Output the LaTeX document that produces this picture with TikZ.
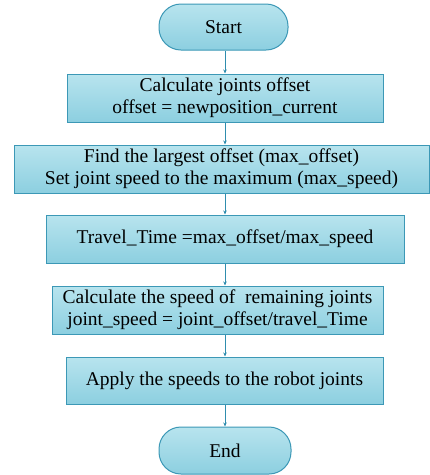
\documentclass[tikz,border=0pt]{standalone}
\usepackage{fontspec}
\setmainfont{Liberation Serif}
\usetikzlibrary{arrows.meta}
\definecolor{edgeC}{HTML}{3C98B6}
\definecolor{topC}{HTML}{B8E4EE}
\definecolor{botC}{HTML}{8CCFE0}
\definecolor{lineC}{HTML}{2F8DAE}
\tikzset{
  procbox/.style={draw=edgeC, line width=1pt, top color=topC, bottom color=botC,
    align=center, inner sep=0pt, font=\fontsize{19.5}{22}\selectfont},
  termbox/.style={procbox, rounded corners=22pt},
  flow/.style={draw=lineC, line width=0.8pt, -{Stealth[length=4pt,width=3.5pt]}}
}
\begin{document}
\begin{tikzpicture}[x=1pt,y=1pt]
\useasboundingbox (0,0) rectangle (430,-475);
\node[termbox, minimum width=129pt, minimum height=46pt] (start) at (223.5,-27) {Start};
\node[procbox, minimum width=316pt, minimum height=48pt] (b1) at (225,-98) {Calculate joints offset\\offset = newposition\_current};
\node[procbox, minimum width=415pt, minimum height=48pt] (b2) at (221.5,-169) {Find the largest offset (max\_offset)\\Set joint speed to the maximum (max\_speed)};
\node[procbox, minimum width=358pt, minimum height=48pt] (b3) at (225,-239) {Travel\_Time =max\_offset/max\_speed};
\node[procbox, minimum width=331pt, minimum height=48pt] (b4) at (217.5,-310) {Calculate the speed of\ \ remaining joints\\joint\_speed = joint\_offset/travel\_Time};
\node[procbox, minimum width=317pt, minimum height=47pt] (b5) at (224.5,-380.5) {Apply the speeds to the robot joints};
\node[termbox, minimum width=132pt, minimum height=47pt] (end) at (225,-450.5) {End};
\coordinate (ax) at (225,0);
\draw[flow] (start.south -| ax) -- (b1.north -| ax);
\draw[flow] (b1.south -| ax) -- (b2.north -| ax);
\draw[flow] (b2.south -| ax) -- (b3.north -| ax);
\draw[flow] (b3.south -| ax) -- (b4.north -| ax);
\draw[flow] (b4.south -| ax) -- (b5.north -| ax);
\draw[flow] (b5.south -| ax) -- (end.north -| ax);
\end{tikzpicture}
\end{document}
